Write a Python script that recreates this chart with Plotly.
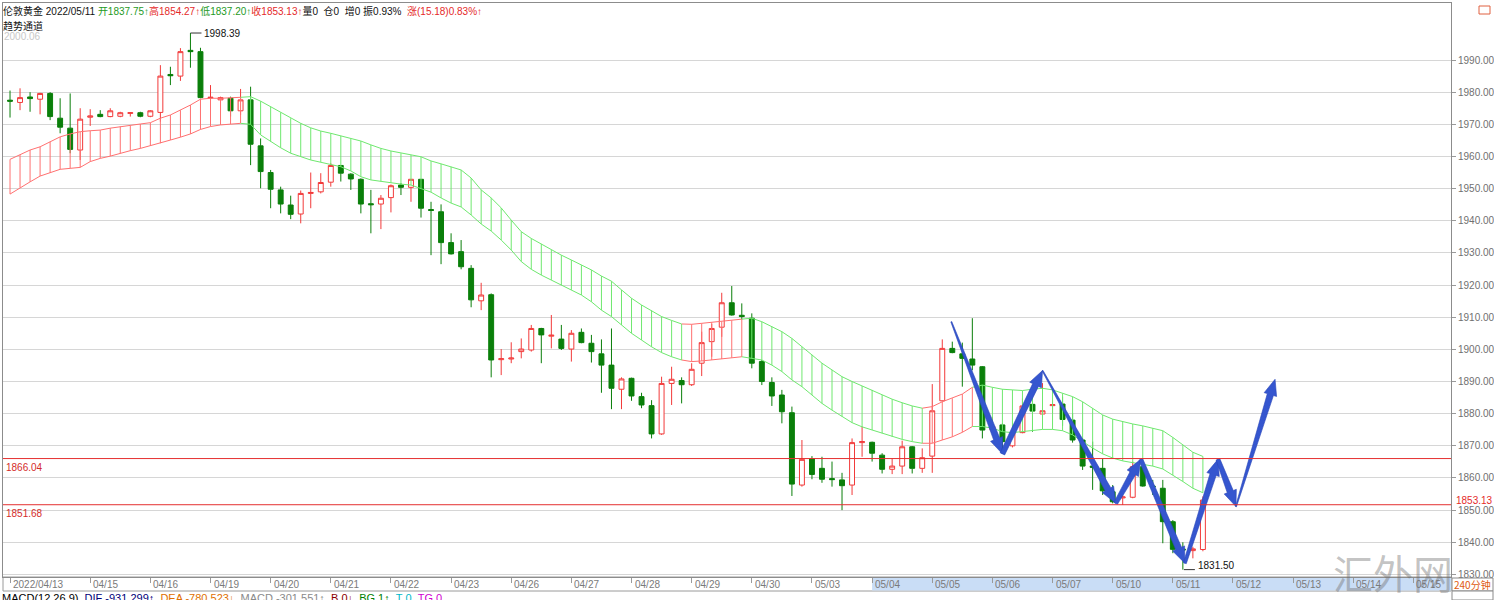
import math
import plotly.graph_objects as go

# ---------------- data ----------------
opens = [1977.5, 1976.8, 1978.5, 1977.8, 1979.6, 1971.9, 1968.8, 1962.0, 1972.2, 1973.1,
         1972.4, 1972.5, 1973.4, 1973.6, 1972.5, 1973.7, 1985.5, 1985.0, 1993.0, 1992.6,
         1978.2, 1977.6, 1978.1, 1974.2, 1977.6, 1963.3, 1955.0, 1949.6, 1944.9, 1942.1,
         1948.5, 1949.0, 1952.0, 1957.2, 1954.5, 1952.9, 1945.3, 1945.2, 1947.2, 1951.1,
         1950.4, 1952.9, 1943.5, 1942.8, 1933.2, 1930.4, 1925.2, 1915.1, 1917.0, 1896.8,
         1897.0, 1899.3, 1899.8, 1906.5, 1904.1, 1903.2, 1900.1, 1905.3, 1901.9, 1898.6,
         1895.1, 1887.6, 1891.0, 1885.3, 1882.5, 1873.7, 1889.4, 1890.3, 1889.0, 1895.7,
         1902.4, 1906.9, 1914.5, 1910.6, 1909.7, 1896.2, 1889.7, 1885.8, 1880.3, 1857.8,
         1866.0, 1863.0, 1859.8, 1859.4, 1857.8, 1871.0, 1871.1, 1867.1, 1862.7, 1863.7,
         1869.7, 1863.0, 1866.8, 1884.0, 1900.3, 1898.6, 1897.0, 1894.6, 1874.9, 1876.5,
         1870.0, 1874.1, 1882.9, 1879.9, 1882.5, 1883.0, 1878.0, 1871.8, 1863.7, 1863.0,
         1855.7, 1853.8, 1854.0, 1863.5, 1857.5, 1856.8, 1846.4, 1837.9, 1837.4, 1837.75]
highs = [1980.5, 1981.2, 1980.0, 1979.8, 1980.0, 1978.1, 1979.6, 1975.0, 1974.7, 1974.4,
         1975.0, 1973.9, 1973.7, 1973.9, 1974.4, 1988.4, 1987.9, 1993.7, 1998.39, 1993.8,
         1982.2, 1978.6, 1978.6, 1981.0, 1981.7, 1965.6, 1955.8, 1950.6, 1947.8, 1949.4,
         1955.0, 1954.8, 1957.9, 1957.3, 1954.8, 1953.2, 1949.6, 1948.0, 1951.3, 1951.7,
         1953.0, 1953.0, 1945.9, 1945.1, 1936.1, 1934.0, 1926.2, 1920.7, 1917.4, 1900.1,
         1902.2, 1903.4, 1907.6, 1906.7, 1910.7, 1907.6, 1906.0, 1906.5, 1904.5, 1903.1,
         1906.5, 1891.3, 1891.2, 1886.5, 1884.2, 1891.5, 1894.6, 1891.3, 1895.7, 1905.5,
         1907.9, 1917.6, 1919.7, 1914.3, 1911.2, 1896.7, 1891.3, 1887.4, 1882.2, 1871.8,
         1866.8, 1866.6, 1865.1, 1861.6, 1872.3, 1876.0, 1871.3, 1867.7, 1866.1, 1871.6,
         1869.9, 1869.2, 1889.2, 1903.1, 1902.4, 1902.1, 1909.7, 1894.8, 1879.0, 1877.0,
         1874.5, 1884.8, 1885.3, 1889.5, 1884.2, 1885.3, 1880.1, 1872.3, 1871.3, 1866.1,
         1857.8, 1854.7, 1865.1, 1865.1, 1859.4, 1859.4, 1846.9, 1840.0, 1838.6, 1854.27]
lows = [1972.1, 1974.4, 1973.9, 1973.1, 1971.3, 1967.2, 1961.0, 1958.9, 1969.5, 1972.2,
        1972.2, 1972.2, 1972.4, 1972.2, 1972.2, 1970.8, 1982.2, 1983.5, 1987.6, 1978.1,
        1974.4, 1974.4, 1972.4, 1972.9, 1957.3, 1950.1, 1943.9, 1942.3, 1940.5, 1939.2,
        1943.9, 1948.5, 1950.6, 1952.2, 1949.6, 1942.3, 1936.1, 1937.4, 1942.6, 1948.0,
        1945.9, 1941.0, 1929.3, 1926.5, 1929.5, 1924.9, 1913.1, 1912.2, 1891.3, 1892.0,
        1895.7, 1897.2, 1899.3, 1895.7, 1900.3, 1899.8, 1896.2, 1901.9, 1895.9, 1886.5,
        1881.4, 1881.4, 1884.0, 1881.7, 1872.3, 1873.4, 1882.7, 1883.2, 1888.6, 1891.7,
        1897.7, 1903.9, 1910.5, 1909.3, 1894.1, 1888.9, 1882.4, 1877.0, 1854.4, 1857.3,
        1859.6, 1858.5, 1857.3, 1850.0, 1854.7, 1866.6, 1865.1, 1861.4, 1861.2, 1861.2,
        1861.4, 1861.6, 1861.6, 1883.8, 1898.8, 1888.4, 1893.5, 1872.3, 1873.8, 1867.5,
        1869.5, 1873.9, 1874.4, 1879.6, 1880.1, 1876.2, 1871.0, 1862.5, 1856.3, 1854.7,
        1852.1, 1851.6, 1853.7, 1857.3, 1854.7, 1839.7, 1836.6, 1831.5, 1835.0, 1837.2]
closes = [1977.2, 1978.3, 1978.0, 1979.6, 1972.4, 1969.1, 1962.2, 1971.6, 1972.6, 1972.4,
          1974.2, 1973.6, 1973.6, 1972.5, 1974.2, 1985.0, 1985.1, 1992.6, 1992.6, 1978.3,
          1978.4, 1978.3, 1974.2, 1977.6, 1963.8, 1955.3, 1949.8, 1945.2, 1942.0, 1948.5,
          1948.8, 1951.9, 1957.2, 1954.8, 1953.0, 1945.2, 1945.0, 1947.0, 1950.9, 1950.4,
          1952.9, 1943.9, 1943.2, 1933.2, 1929.7, 1925.7, 1915.4, 1916.9, 1896.7, 1897.1,
          1897.3, 1900.1, 1906.5, 1904.5, 1904.4, 1900.3, 1905.0, 1902.1, 1899.3, 1895.1,
          1887.9, 1890.8, 1885.5, 1882.7, 1873.7, 1889.4, 1890.7, 1889.0, 1893.8, 1902.1,
          1906.5, 1914.5, 1910.7, 1910.2, 1895.7, 1890.0, 1885.5, 1880.6, 1858.1, 1865.8,
          1861.1, 1859.6, 1859.5, 1857.6, 1871.0, 1871.3, 1867.7, 1862.7, 1863.7, 1869.7,
          1863.0, 1866.3, 1880.9, 1900.3, 1899.0, 1897.2, 1895.1, 1874.9, 1876.0, 1871.3,
          1874.1, 1882.4, 1880.8, 1880.9, 1882.8, 1878.2, 1871.8, 1863.7, 1863.3, 1856.0,
          1852.6, 1854.1, 1863.5, 1857.5, 1857.2, 1846.4, 1837.8, 1837.6, 1837.95, 1853.13]

chan_upper = [1959.1, 1960.5, 1962.0, 1963.0, 1964.6, 1966.1, 1967.0, 1967.7, 1968.0, 1968.2,
              1968.8, 1969.3, 1969.6, 1970.1, 1970.5, 1971.9, 1972.9, 1974.4, 1976.0, 1977.8,
              1978.1, 1978.1, 1978.3, 1978.4, 1978.6, 1977.2, 1975.5, 1973.7, 1971.9, 1970.3,
              1968.9, 1967.9, 1967.2, 1966.4, 1965.6, 1964.8, 1963.6, 1962.5, 1961.7, 1961.0,
              1960.5, 1959.9, 1958.6, 1957.7, 1956.8, 1955.8, 1953.3, 1949.6, 1947.1, 1944.0,
              1940.2, 1936.6, 1934.5, 1932.8, 1930.9, 1929.3, 1927.8, 1926.2, 1924.7, 1922.8,
              1921.2, 1918.5, 1915.9, 1913.8, 1912.1, 1910.2, 1909.0, 1907.9, 1907.8, 1908.1,
              1908.4, 1908.7, 1909.0, 1909.4, 1909.7, 1908.6, 1907.1, 1905.5, 1903.4, 1900.8,
              1898.3, 1895.7, 1893.6, 1891.5, 1890.0, 1888.6, 1887.4, 1885.8, 1884.5, 1883.4,
              1882.4, 1881.7, 1882.2, 1883.7, 1884.8, 1886.1, 1888.2, 1888.9, 1888.2, 1887.6,
              1887.4, 1887.2, 1887.6, 1887.9, 1887.4, 1886.3, 1885.3, 1883.7, 1881.7, 1879.6,
              1878.3, 1877.5, 1876.8, 1876.2, 1875.5, 1874.7, 1872.6, 1870.3, 1868.0, 1866.7]
chan_lower = [1948.3, 1950.3, 1952.1, 1953.9, 1954.9, 1956.0, 1956.3, 1956.6, 1958.4, 1959.4,
              1960.1, 1961.0, 1961.8, 1962.5, 1963.3, 1964.1, 1965.1, 1966.0, 1967.0, 1968.4,
              1969.3, 1969.8, 1970.1, 1970.3, 1970.0, 1966.7, 1964.6, 1962.7, 1961.0, 1959.9,
              1958.9, 1958.2, 1957.6, 1956.8, 1955.5, 1953.7, 1952.7, 1952.2, 1951.8, 1951.4,
              1951.1, 1950.1, 1948.9, 1947.1, 1945.5, 1944.3, 1941.8, 1939.0, 1936.8, 1934.0,
              1930.9, 1927.3, 1924.9, 1923.1, 1921.6, 1920.0, 1918.5, 1916.9, 1914.8, 1912.2,
              1910.2, 1907.6, 1905.0, 1902.9, 1900.8, 1899.0, 1897.7, 1896.7, 1896.2, 1896.4,
              1896.7, 1897.0, 1897.4, 1897.7, 1897.2, 1896.7, 1895.1, 1893.1, 1890.5, 1888.4,
              1885.8, 1883.2, 1881.1, 1879.1, 1877.2, 1875.9, 1874.9, 1873.9, 1872.8, 1872.0,
              1871.3, 1870.8, 1870.8, 1871.8, 1872.8, 1874.2, 1876.0, 1876.0, 1875.5, 1874.4,
              1874.1, 1874.4, 1874.7, 1875.1, 1875.1, 1874.7, 1873.4, 1871.3, 1869.3, 1867.5,
              1866.2, 1865.3, 1864.7, 1864.2, 1863.7, 1862.8, 1860.9, 1858.9, 1856.8, 1855.4]
# (state, first candle, last candle)
trend_runs = [("up", 0, 23), ("down", 24, 67), ("up", 68, 73),
              ("down", 74, 91), ("up", 92, 96), ("down", 97, 119)]

tick_idx = [0, 8, 14, 20, 26, 32, 38, 44, 50, 56, 62, 68, 74, 80, 86, 92,
            98, 104, 110, 116, 122, 128, 134, 140]
tick_text = ["2022/04/13", "04/15", "04/16", "04/19", "04/20", "04/21", "04/22", "04/23",
             "04/26", "04/27", "04/28", "04/29", "04/30", "05/03", "05/04", "05/05",
             "05/06", "05/07", "05/10", "05/11", "05/12", "05/13", "05/14", "05/15"]
highlight_from = "05/04"

levels = [1866.04, 1851.68]
y_ticks = [1830, 1840, 1850, 1860, 1870, 1880, 1890, 1900, 1910, 1920, 1930, 1940,
           1950, 1960, 1970, 1980, 1990]

# hand-drawn wave projection (candle index, price)
wave_x = [93.9, 99.0, 103.0, 110.3, 112.8, 117.2, 120.5, 122.3, 126.2]
wave_y = [1908.6, 1867.5, 1893.4, 1852.1, 1865.8, 1833.5, 1865.8, 1851.1, 1890.7]

macd_parts = [("MACD(12,26,9)", "#000000"), ("DIF -931.299↑", "#00007a"),
              ("DEA -780.523↓", "#e07000"), ("MACD -301.551↑", "#8a8a8a"),
              ("B 0↓", "#8b0000"), ("BG 1↑", "#008000"), ("T 0", "#00b8c8"),
              ("TG 0", "#d000d0")]

# ---------------- layout geometry ----------------
W, H = 1494, 600
PL, PR, PT, PB = 3, 1451, 3, 577
XR = [-0.7, 143.75]
YR = [1829.2, 2007.73]
FONT = "Liberation Sans, Arial, Noto Sans CJK SC, sans-serif"
MIX = "Liberation Sans, Noto Sans CJK SC, sans-serif"
CJK = "Noto Sans CJK SC, Liberation Sans, sans-serif"
RED = "#f23a3a"
GREEN = "#0a7f0a"
NB = "\u00a0"


def paper_x(px):
    return (px - PL) / (PR - PL)


def paper_y(py):
    return (PB - py) / (PB - PT)


def d2px(x, y):
    return (PL + (x - XR[0]) / (XR[1] - XR[0]) * (PR - PL),
            PB - (y - YR[0]) / (YR[1] - YR[0]) * (PB - PT))


def px2d(px, py):
    return (XR[0] + (px - PL) / (PR - PL) * (XR[1] - XR[0]),
            YR[0] + (PB - py) / (PB - PT) * (YR[1] - YR[0]))


n = len(opens)
xs = list(range(n))
fig = go.Figure()

# ---------------- trend channel ----------------
for state, a, b in trend_runs:
    col = "#ff7070" if state == "up" else "#6fe86f"
    s = max(a - 1, 0)
    vx, vy = [], []
    for i in range(a, b + 1):
        vx += [i, i, None]
        vy += [chan_lower[i], chan_upper[i], None]
    fig.add_trace(go.Scatter(x=vx, y=vy, mode="lines", line=dict(color=col, width=1),
                             hoverinfo="skip", showlegend=False))
    fig.add_trace(go.Scatter(x=xs[s:b + 1], y=chan_upper[s:b + 1], mode="lines",
                             line=dict(color=col, width=1), hoverinfo="skip", showlegend=False))
    fig.add_trace(go.Scatter(x=xs[s:b + 1], y=chan_lower[s:b + 1], mode="lines",
                             line=dict(color=col, width=1), hoverinfo="skip", showlegend=False))

# ---------------- candles ----------------
fig.add_trace(go.Candlestick(
    x=xs, open=opens, high=highs, low=lows, close=closes,
    increasing=dict(line=dict(color=RED, width=1), fillcolor="#ffffff"),
    decreasing=dict(line=dict(color=GREEN, width=1), fillcolor=GREEN),
    whiskerwidth=0, showlegend=False, hoverinfo="skip"))

# ---------------- horizontal levels ----------------
for lv in levels:
    fig.add_shape(type="line", xref="paper", yref="y", x0=0, x1=1, y0=lv, y1=lv,
                  line=dict(color="#e53030", width=1))
    fig.add_annotation(xref="paper", yref="y", x=paper_x(4), y=lv, text=f"{lv:.2f}",
                       showarrow=False, xanchor="left", yanchor="top", yshift=-1,
                       font=dict(family=FONT, size=10, color="#d42a2a"))

# ---------------- extreme labels ----------------
imax = max(range(n), key=lambda i: highs[i])
imin = min(range(n), key=lambda i: lows[i])
fig.add_shape(type="line", xref="x", yref="y", x0=imax, x1=imax + 1.1,
              y0=highs[imax], y1=highs[imax], line=dict(color="#333333", width=1))
fig.add_annotation(x=imax + 1.2, y=highs[imax], text=f"{highs[imax]:.2f}", showarrow=False,
                   xanchor="left", yanchor="middle",
                   font=dict(family=FONT, size=10, color="#111111"))
fig.add_shape(type="line", xref="x", yref="y", x0=imin + 0.1, x1=imin + 1.2,
              y0=lows[imin], y1=lows[imin], line=dict(color="#333333", width=1))
fig.add_annotation(x=imin + 1.35, y=lows[imin], text=f"{lows[imin]:.2f}", showarrow=False,
                   xanchor="left", yanchor="bottom", yshift=-3,
                   font=dict(family=FONT, size=10, color="#111111"))

# ---------------- hand-drawn arrows ----------------
start_w = [1.0, 5.0, 1.0, 4.0, 4.0, 3.0, 4.0, 1.0]
BLUE = "#3556cf"
for k in range(len(wave_x) - 1):
    sx, sy = d2px(wave_x[k], wave_y[k])
    ex, ey = d2px(wave_x[k + 1], wave_y[k + 1])
    L = math.hypot(ex - sx, ey - sy)
    ux, uy = (ex - sx) / L, (ey - sy) / L
    nx, ny = -uy, ux
    hl, hw, w1, w0 = 16.0, 6.5, 3.2, start_w[k] / 2
    bx, by = ex - ux * hl, ey - uy * hl
    pts = [(sx + nx * w0, sy + ny * w0), (bx + nx * w1, by + ny * w1),
           (bx + nx * hw, by + ny * hw), (ex, ey),
           (bx - nx * hw, by - ny * hw), (bx - nx * w1, by - ny * w1),
           (sx - nx * w0, sy - ny * w0), (sx + nx * w0, sy + ny * w0)]
    dpts = [px2d(px, py) for px, py in pts]
    fig.add_trace(go.Scatter(x=[p[0] for p in dpts], y=[p[1] for p in dpts], mode="lines",
                             fill="toself", fillcolor=BLUE, line=dict(color="#2a46b8", width=0.6),
                             hoverinfo="skip", showlegend=False))

# ---------------- x-axis band ----------------
fig.add_shape(type="rect", xref="paper", yref="paper", x0=0, x1=1,
              y0=paper_y(591), y1=paper_y(577), line=dict(color="#9a9a9a", width=1),
              fillcolor="#ffffff", layer="below")
hx = tick_idx[tick_text.index(highlight_from)]
fig.add_shape(type="rect", xref="x", yref="paper", x0=hx, x1=XR[1],
              y0=paper_y(590.5), y1=paper_y(577.5), line=dict(width=0),
              fillcolor="#c9ddf6", layer="below")
for ti, tt in zip(tick_idx, tick_text):
    fig.add_annotation(x=ti, xref="x", yref="paper", y=paper_y(584), text=tt,
                       showarrow=False, xanchor="left", yanchor="middle", xshift=1,
                       font=dict(family=FONT, size=10, color="#7a7a7a"))

# ---------------- header ----------------
prev_close = closes[-2]
chg = closes[-1] - prev_close
amp = (highs[-1] - lows[-1]) / prev_close * 100
hdr = ("伦敦黄金" + NB + "2022/05/11" + NB +
       f'<span style="color:#1e9a1e">开{opens[-1]:.2f}↑</span>'
       f'<span style="color:#e52a2a">高{highs[-1]:.2f}↑</span>'
       f'<span style="color:#1e9a1e">低{lows[-1]:.2f}↑</span>'
       f'<span style="color:#e52a2a">收{closes[-1]:.2f}↑</span>'
       f"量0{NB}{NB}仓0{NB}{NB}增0{NB}振{amp:.2f}%{NB}{NB}"
       f'<span style="color:#e52a2a">涨({chg:.2f}){chg / prev_close * 100:.2f}%↑</span>')
fig.add_annotation(xref="paper", yref="paper", x=paper_x(1), y=paper_y(3), text=hdr,
                   showarrow=False, xanchor="left", yanchor="top",
                   font=dict(family=MIX, size=10, color="#111111"))
fig.add_annotation(xref="paper", yref="paper", x=paper_x(1), y=paper_y(16), text="趋势通道",
                   showarrow=False, xanchor="left", yanchor="top",
                   font=dict(family=CJK, size=10, color="#111111"))
fig.add_annotation(xref="paper", yref="paper", x=paper_x(2), y=paper_y(29), text="2000.06",
                   showarrow=False, xanchor="left", yanchor="top",
                   font=dict(family=FONT, size=10, color="#c8c8c8"))

# current price tag on the right axis
fig.add_annotation(xref="paper", yref="y", x=paper_x(1454), y=closes[-1], text=f"{closes[-1]:.2f}",
                   showarrow=False, xanchor="left", yanchor="middle",
                   font=dict(family=FONT, size=10, color="#e52a2a"))

# bottom-right period box
fig.add_shape(type="rect", xref="paper", yref="paper", x0=paper_x(1452), x1=paper_x(1493),
              y0=paper_y(591), y1=paper_y(578), line=dict(color="#8a8a8a", width=1),
              fillcolor="#ffffff")
fig.add_shape(type="rect", xref="paper", yref="paper", x0=paper_x(1452), x1=paper_x(1493),
              y0=paper_y(600), y1=paper_y(591), line=dict(color="#8a8a8a", width=1),
              fillcolor="#ffffff")
fig.add_annotation(xref="paper", yref="paper", x=paper_x(1472.5), y=paper_y(584.5), text="240分钟",
                   showarrow=False, xanchor="center", yanchor="middle",
                   font=dict(family=CJK, size=10, color="#e05a10"))
# small icon top-right
fig.add_shape(type="rect", xref="paper", yref="paper", x0=paper_x(1479), x1=paper_x(1490),
              y0=paper_y(14), y1=paper_y(6), line=dict(color="#e06040", width=1))

# watermark
fig.add_annotation(xref="paper", yref="paper", x=paper_x(1393), y=paper_y(572), text="汇外网",
                   showarrow=False, xanchor="center", yanchor="middle",
                   font=dict(family=CJK, size=40, color="rgba(110,110,110,0.42)"))

# MACD info line
macd_txt = (NB * 2).join(f'<span style="color:{c}">{t}</span>' for t, c in macd_parts)
fig.add_annotation(xref="paper", yref="paper", x=paper_x(0), y=paper_y(590), text=macd_txt,
                   showarrow=False, xanchor="left", yanchor="top",
                   font=dict(family=FONT, size=11, color="#000000"))

fig.update_layout(
    width=W, height=H,
    margin=dict(l=PL, r=W - PR, t=PT, b=H - PB, pad=0),
    paper_bgcolor="#ffffff", plot_bgcolor="#ffffff",
    showlegend=False,
    xaxis=dict(range=XR, rangeslider=dict(visible=False), showgrid=False, zeroline=False,
               showline=True, linecolor="#8c8c8c", linewidth=1, mirror=True,
               tickvals=tick_idx, ticks="outside", ticklen=5, tickcolor="#9a9a9a",
               showticklabels=False, automargin=False, fixedrange=True),
    yaxis=dict(range=YR, side="right", tickvals=y_ticks, tickformat=".2f",
               ticks="outside", ticklen=4, tickcolor="#9a9a9a",
               showgrid=True, gridcolor="#d6d6d6", gridwidth=1, zeroline=False,
               showline=True, linecolor="#8c8c8c", linewidth=1, mirror=True,
               tickfont=dict(family=FONT, size=10, color="#707070"),
               automargin=False, fixedrange=True),
)

fig.write_html("out.html", config={"displayModeBar": False},
               post_script="document.body.style.margin='0px';"
                           "document.body.style.overflow='hidden';")
